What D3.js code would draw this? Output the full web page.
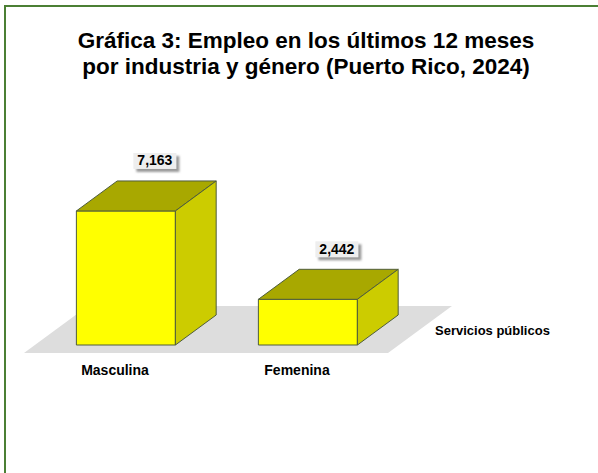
<!DOCTYPE html>
<html>
<head>
<meta charset="utf-8">
<script src="https://cdn.jsdelivr.net/npm/d3@7"></script>
<style>
  body { margin: 0; background: #fff; }
  text { font-family: "Liberation Sans", Arial, sans-serif; font-weight: bold; fill: #000; }
</style>
</head>
<body>
<div id="chart"></div>
<script>
// Data
const categories = ['Masculina', 'Femenina'];
const values = [7163, 2442];
const seriesNames = ['Servicios públicos'];
const titleLines = ['Gráfica 3: Empleo en los últimos 12 meses', 'por industria y género (Puerto Rico, 2024)'];

const width = 598, height = 473;

// 3D geometry: depth runs up-right
const depthRatio = 1.36;           // dx per unit of dy
const floorDepth = 47;             // floor depth (vertical px)
const barFrontDepth = 8;           // bars pushed back from floor front
const barDepth = 30;               // bar depth (vertical px)
const floorFrontY = 353;

const svg = d3.select('#chart')
  .append('svg')
  .attr('width', width)
  .attr('height', height);

// Shadow filter for data labels
const defs = svg.append('defs');
const f = defs.append('filter').attr('id', 'shadow').attr('x', '-20%').attr('y', '-20%').attr('width', '150%').attr('height', '180%');
f.append('feGaussianBlur').attr('stdDeviation', 1.2);

// Frame
svg.append('line').attr('x1', 5).attr('y1', 5).attr('x2', 5).attr('y2', height)
  .attr('stroke', '#4b7f34').attr('stroke-width', 2);
svg.append('line').attr('x1', 4).attr('y1', 6).attr('x2', width).attr('y2', 6)
  .attr('stroke', '#4b7f34').attr('stroke-width', 2);

// Title
svg.append('text')
  .attr('text-anchor', 'middle')
  .style('font-size', '22.5px')
  .selectAll('tspan')
  .data(titleLines)
  .enter()
  .append('tspan')
  .attr('x', 306)
  .attr('y', (d, i) => 48 + i * 26)
  .text((d) => d);

// Scales
const xScale = d3.scaleBand().domain(categories).range([24, 388]);
const barFrontY = floorFrontY - barFrontDepth;
const yScale = d3.scaleLinear().domain([0, 8000]).range([barFrontY, barFrontY - 149.7]);

const pt = (x, y) => x + ',' + y;

// Floor
const fdx = floorDepth * depthRatio;
svg.append('polygon')
  .attr('points', [
    pt(xScale.range()[0], floorFrontY),
    pt(xScale.range()[1], floorFrontY),
    pt(xScale.range()[1] + fdx, floorFrontY - floorDepth),
    pt(xScale.range()[0] + fdx, floorFrontY - floorDepth)
  ].join(' '))
  .attr('fill', '#dddddd');

// Bars
const barW = xScale.bandwidth() * 0.544;
const shift = barFrontDepth * depthRatio;
const bdx = barDepth * depthRatio;
const fmt = d3.format(',');

const bars = svg.selectAll('.bar')
  .data(categories.map((c, i) => ({ cat: c, value: values[i] })))
  .enter()
  .append('g')
  .attr('class', 'bar');

bars.each(function (d) {
  const g = d3.select(this);
  const cx = xScale(d.cat) + xScale.bandwidth() / 2 + shift;
  const x0 = cx - barW / 2, x1 = cx + barW / 2;
  const yb = yScale(0), yt = yScale(d.value);
  const edge = '#4f5d3c';

  g.append('polygon')
    .attr('points', [pt(x0, yt), pt(x1, yt), pt(x1, yb), pt(x0, yb)].join(' '))
    .attr('fill', '#ffff00').attr('stroke', edge).attr('stroke-width', 1);
  g.append('polygon')
    .attr('points', [pt(x0, yt), pt(x1, yt), pt(x1 + bdx, yt - barDepth), pt(x0 + bdx, yt - barDepth)].join(' '))
    .attr('fill', '#a8a800').attr('stroke', edge).attr('stroke-width', 1);
  g.append('polygon')
    .attr('points', [pt(x1, yt), pt(x1 + bdx, yt - barDepth), pt(x1 + bdx, yb - barDepth), pt(x1, yb)].join(' '))
    .attr('fill', '#cccc00').attr('stroke', edge).attr('stroke-width', 1);

  // Data label
  const lx = cx + 29, ly = yt - barDepth - 12;
  const bw = 43, bh = 16;
  g.append('rect')
    .attr('x', lx - bw / 2 + 3).attr('y', ly - bh + 3)
    .attr('width', bw).attr('height', bh)
    .attr('fill', '#9a9a9a').attr('filter', 'url(#shadow)');
  g.append('rect')
    .attr('x', lx - bw / 2).attr('y', ly - bh)
    .attr('width', bw).attr('height', bh)
    .attr('fill', '#eeeeee');
  g.append('text')
    .attr('x', lx).attr('y', ly - 3.5)
    .attr('text-anchor', 'middle')
    .style('font-size', '14px')
    .text(fmt(d.value));
});

// Category labels
svg.selectAll('.cat-label')
  .data(categories)
  .enter()
  .append('text')
  .attr('class', 'cat-label')
  .attr('x', (d) => xScale(d) + xScale.bandwidth() / 2)
  .attr('y', 375)
  .attr('text-anchor', 'middle')
  .style('font-size', '14px')
  .text((d) => d);

// Series (depth axis) label
svg.selectAll('.series-label')
  .data(seriesNames)
  .enter()
  .append('text')
  .attr('class', 'series-label')
  .attr('x', 435)
  .attr('y', 335)
  .style('font-size', '13px')
  .text((d) => d);
</script>
</body>
</html>
